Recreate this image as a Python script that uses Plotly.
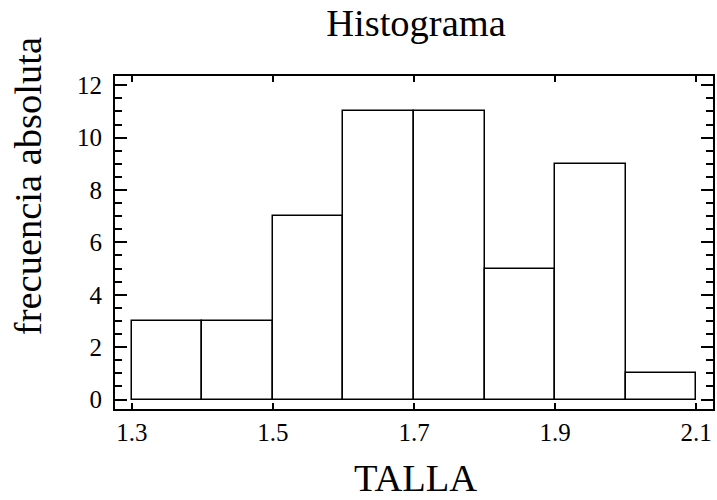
import plotly.graph_objects as go

bin_edges = [1.3, 1.4, 1.5, 1.6, 1.7, 1.8, 1.9, 2.0, 2.1]
counts = [3, 3, 7, 11, 11, 5, 9, 1]
x_ticks = [1.3, 1.5, 1.7, 1.9, 2.1]
y_ticks = [0, 2, 4, 6, 8, 10, 12]

centers = [(a + b) / 2 for a, b in zip(bin_edges[:-1], bin_edges[1:])]
widths = [b - a for a, b in zip(bin_edges[:-1], bin_edges[1:])]

FONT = "Liberation Serif, Times New Roman, serif"
BIG = 38.5

fig = go.Figure(go.Bar(
    x=centers, y=counts, width=widths,
    marker=dict(color="white", line=dict(color="black", width=1.5)),
    showlegend=False,
))

fig.update_layout(
    width=717, height=500,
    margin=dict(l=115, r=2, t=76, b=91),
    plot_bgcolor="white", paper_bgcolor="white",
    font=dict(family=FONT, color="black", size=25),
    title=dict(text="Histograma", x=416/717, xanchor="center",
               y=1 - 23/500, yanchor="middle", yref="container",
               font=dict(family=FONT, size=BIG, color="black")),
    bargap=0,
    annotations=[
        dict(text="TALLA", xref="paper", yref="paper", x=0.5017, y=-0.207,
             xanchor="center", yanchor="middle", showarrow=False,
             font=dict(family=FONT, size=BIG, color="black")),
        dict(text="frecuencia absoluta", xref="paper", yref="paper", x=-0.145, y=0.67,
             xanchor="center", yanchor="middle", showarrow=False, textangle=-90,
             font=dict(family=FONT, size=BIG, color="black")),
    ],
)

fig.update_xaxes(
    range=[1.276, 2.124], tickvals=x_ticks, ticktext=[f"{v:.1f}" for v in x_ticks],
    ticks="inside", ticklen=6, tickwidth=1.5, tickcolor="black",
    showline=True, linecolor="black", linewidth=2, mirror="ticks",
    showgrid=False, zeroline=False,
    tickfont=dict(family=FONT, size=25, color="black"),
)
fig.update_yaxes(
    range=[-0.363, 12.355], tickvals=y_ticks,
    ticks="inside", ticklen=12, tickwidth=1.5, tickcolor="black",
    minor=dict(dtick=0.5, tick0=0, ticks="inside", ticklen=7, tickwidth=1.5, tickcolor="black"),
    showline=True, linecolor="black", linewidth=2, mirror="ticks",
    showgrid=False, zeroline=False,
    ticklabelstandoff=6,
    tickfont=dict(family=FONT, size=25, color="black"),
)

fig.write_html("out.html")
